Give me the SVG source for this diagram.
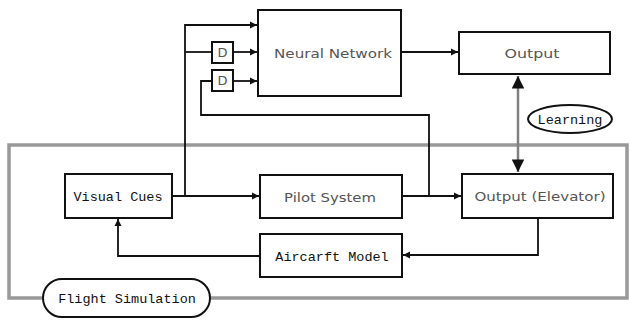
<svg xmlns="http://www.w3.org/2000/svg" width="630" height="322" viewBox="0 0 630 322">
<style>
.box{fill:#fff;stroke:#111;stroke-width:2}
.mono{font-family:"Liberation Mono","DejaVu Sans Mono",monospace;font-size:13.5px;fill:#111}
.sans{font-family:"DejaVu Sans","Liberation Sans",sans-serif;font-size:13px;fill:#555}
.ln{fill:none;stroke:#111;stroke-width:1.8}
.gray{fill:none;stroke:#999;stroke-width:3.5}
</style>
<defs>
<marker id="ah" viewBox="0 0 10 10" refX="10" refY="5" markerWidth="4" markerHeight="4" orient="auto" markerUnits="strokeWidth"><path d="M0,0 L10,5 L0,10 z" fill="#111"/></marker>
<marker id="big" viewBox="0 0 10 10" refX="10" refY="5" markerWidth="5.5" markerHeight="5" orient="auto-start-reverse" markerUnits="strokeWidth"><path d="M0,0 L10,5 L0,10 z" fill="#111"/></marker>
</defs>
<g id="flight-sim">
<rect x="9" y="145" width="618" height="153" class="gray"/>
</g>
<g id="connectors">
<path class="ln" d="M185,196 V25 H257" marker-end="url(#ah)"/>
<path class="ln" d="M185,52 H212"/>
<path class="ln" d="M233,52 H257" marker-end="url(#ah)"/>
<path class="ln" d="M233,81 H257" marker-end="url(#ah)"/>
<path class="ln" d="M429,196 V115 H201 V81 H212"/>
<path class="ln" d="M401,52 H458" marker-end="url(#ah)"/>
<path class="ln" d="M172,196 H259" marker-end="url(#ah)"/>
<path class="ln" d="M402,196 H461" marker-end="url(#ah)"/>
<path class="ln" d="M538,218 V255 H403" marker-end="url(#ah)"/>
<path class="ln" d="M260,256 H118 V219" marker-end="url(#ah)"/>
<path d="M518,76 V172" fill="none" stroke="#808080" stroke-width="2.5" marker-start="url(#big)" marker-end="url(#big)"/>
</g>
<g id="neural-network">
<rect x="258" y="10" width="143" height="86" class="box"/>
<text x="333" y="58" text-anchor="middle" class="sans" textLength="118" lengthAdjust="spacingAndGlyphs">Neural Network</text>
</g>
<g id="delay1">
<rect x="212" y="42" width="21" height="21" class="box"/>
<text x="222.5" y="57" text-anchor="middle" class="sans">D</text>
</g>
<g id="delay2">
<rect x="212" y="70" width="21" height="21" class="box"/>
<text x="222.5" y="85" text-anchor="middle" class="sans">D</text>
</g>
<g id="output">
<rect x="459" y="32" width="151" height="42" class="box"/>
<text x="532" y="58" text-anchor="middle" class="sans" textLength="55" lengthAdjust="spacingAndGlyphs">Output</text>
</g>
<g id="learning">
<ellipse cx="570" cy="119" rx="42" ry="14" fill="#fff" stroke="#111" stroke-width="2"/>
<text x="570" y="124" text-anchor="middle" class="mono" font-size="13">Learning</text>
</g>
<g id="visual-cues">
<rect x="65" y="174" width="107" height="44" class="box"/>
<text x="118" y="201" text-anchor="middle" class="mono">Visual Cues</text>
</g>
<g id="pilot-system">
<rect x="260" y="175" width="142" height="43" class="box"/>
<text x="330" y="202" text-anchor="middle" class="sans" textLength="92" lengthAdjust="spacingAndGlyphs">Pilot System</text>
</g>
<g id="output-elevator">
<rect x="462" y="174" width="151" height="44" class="box"/>
<text x="540" y="201" text-anchor="middle" class="sans" textLength="131" lengthAdjust="spacingAndGlyphs">Output (Elevator)</text>
</g>
<g id="aircraft-model">
<rect x="260" y="234" width="142" height="43" class="box"/>
<text x="332" y="261" text-anchor="middle" class="mono">Aircarft Model</text>
</g>
<g id="flight-simulation-label">
<rect x="43" y="279" width="167" height="38" rx="19" fill="#fff" stroke="#111" stroke-width="2"/>
<text x="127" y="303" text-anchor="middle" class="mono">Flight Simulation</text>
</g>
</svg>
